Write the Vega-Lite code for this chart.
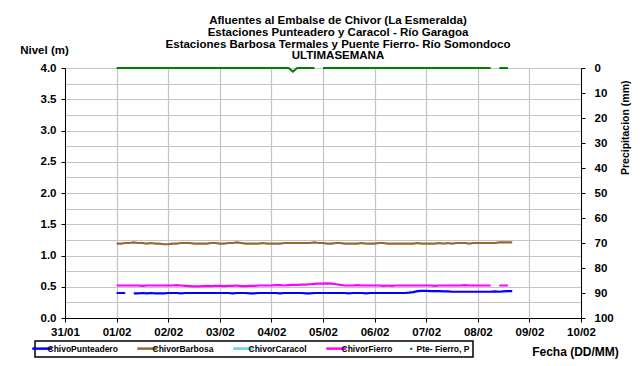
{
  "$schema": "https://vega.github.io/schema/vega-lite/v6.json",
  "width": 516,
  "height": 250,
  "autosize": {"type": "none"},
  "padding": {"left": 65, "top": 68, "right": 62, "bottom": 48},
  "background": "white",
  "title": {
    "text": ["Afluentes al Embalse de Chivor (La Esmeralda)", "Estaciones Punteadero y Caracol - Río Garagoa", "Estaciones Barbosa Termales y Puente Fierro- Río Somondoco", "ULTIMASEMANA"],
    "font": "Liberation Sans",
    "fontSize": 11.5,
    "fontWeight": "bold",
    "color": "black",
    "lineHeight": 11.7,
    "anchor": "middle",
    "dx": 15,
    "offset": -18
  },
  "config": {
    "font": "Liberation Sans",
    "view": {"stroke": null},
    "axis": {
      "labelFont": "Liberation Sans",
      "labelFontWeight": "bold",
      "labelFontSize": 11.5,
      "labelColor": "black",
      "titleFont": "Liberation Sans",
      "titleFontWeight": "bold",
      "titleColor": "black",
      "domainColor": "black",
      "tickColor": "black",
      "gridColor": "#c4c4c4",
      "gridWidth": 1.2
    }
  },
  "data": {
    "values": [
      {"t": "2014-02-01T00:00", "ChivoPunteadero": 0.40, "ChivorBarbosa": 1.19, "ChivorFierro": 0.52, "P": 0},
      {"t": "2014-02-01T02:00", "ChivoPunteadero": 0.40, "ChivorBarbosa": 1.19, "ChivorFierro": 0.52, "P": 0},
      {"t": "2014-02-01T04:00", "ChivoPunteadero": 0.40, "ChivorBarbosa": 1.20, "ChivorFierro": 0.52, "P": 0},
      {"t": "2014-02-01T06:00", "ChivoPunteadero": null, "ChivorBarbosa": 1.20, "ChivorFierro": 0.52, "P": 0},
      {"t": "2014-02-01T08:00", "ChivoPunteadero": 0.395, "ChivorBarbosa": 1.21, "ChivorFierro": 0.52, "P": 0},
      {"t": "2014-02-01T10:00", "ChivoPunteadero": 0.395, "ChivorBarbosa": 1.20, "ChivorFierro": 0.52, "P": 0},
      {"t": "2014-02-01T12:00", "ChivoPunteadero": 0.40, "ChivorBarbosa": 1.20, "ChivorFierro": 0.515, "P": 0},
      {"t": "2014-02-01T14:00", "ChivoPunteadero": 0.395, "ChivorBarbosa": 1.19, "ChivorFierro": 0.52, "P": 0},
      {"t": "2014-02-01T16:00", "ChivoPunteadero": 0.40, "ChivorBarbosa": 1.20, "ChivorFierro": 0.52, "P": 0},
      {"t": "2014-02-01T18:00", "ChivoPunteadero": 0.395, "ChivorBarbosa": 1.19, "ChivorFierro": 0.52, "P": 0},
      {"t": "2014-02-01T20:00", "ChivoPunteadero": 0.395, "ChivorBarbosa": 1.19, "ChivorFierro": 0.52, "P": 0},
      {"t": "2014-02-01T22:00", "ChivoPunteadero": 0.395, "ChivorBarbosa": 1.18, "ChivorFierro": 0.52, "P": 0},
      {"t": "2014-02-02T00:00", "ChivoPunteadero": 0.40, "ChivorBarbosa": 1.18, "ChivorFierro": 0.52, "P": 0},
      {"t": "2014-02-02T02:00", "ChivoPunteadero": 0.40, "ChivorBarbosa": 1.19, "ChivorFierro": 0.52, "P": 0},
      {"t": "2014-02-02T04:00", "ChivoPunteadero": 0.40, "ChivorBarbosa": 1.19, "ChivorFierro": 0.525, "P": 0},
      {"t": "2014-02-02T06:00", "ChivoPunteadero": 0.395, "ChivorBarbosa": 1.20, "ChivorFierro": 0.52, "P": 0},
      {"t": "2014-02-02T08:00", "ChivoPunteadero": 0.40, "ChivorBarbosa": 1.20, "ChivorFierro": 0.515, "P": 0},
      {"t": "2014-02-02T10:00", "ChivoPunteadero": 0.40, "ChivorBarbosa": 1.20, "ChivorFierro": 0.51, "P": 0},
      {"t": "2014-02-02T12:00", "ChivoPunteadero": 0.40, "ChivorBarbosa": 1.19, "ChivorFierro": 0.505, "P": 0},
      {"t": "2014-02-02T14:00", "ChivoPunteadero": 0.40, "ChivorBarbosa": 1.19, "ChivorFierro": 0.505, "P": 0},
      {"t": "2014-02-02T16:00", "ChivoPunteadero": 0.40, "ChivorBarbosa": 1.19, "ChivorFierro": 0.51, "P": 0},
      {"t": "2014-02-02T18:00", "ChivoPunteadero": 0.40, "ChivorBarbosa": 1.19, "ChivorFierro": 0.515, "P": 0},
      {"t": "2014-02-02T20:00", "ChivoPunteadero": 0.40, "ChivorBarbosa": 1.20, "ChivorFierro": 0.51, "P": 0},
      {"t": "2014-02-02T22:00", "ChivoPunteadero": 0.40, "ChivorBarbosa": 1.20, "ChivorFierro": 0.515, "P": 0},
      {"t": "2014-02-03T00:00", "ChivoPunteadero": 0.40, "ChivorBarbosa": 1.19, "ChivorFierro": 0.515, "P": 0},
      {"t": "2014-02-03T02:00", "ChivoPunteadero": 0.40, "ChivorBarbosa": 1.19, "ChivorFierro": 0.51, "P": 0},
      {"t": "2014-02-03T04:00", "ChivoPunteadero": 0.40, "ChivorBarbosa": 1.20, "ChivorFierro": 0.515, "P": 0},
      {"t": "2014-02-03T06:00", "ChivoPunteadero": 0.395, "ChivorBarbosa": 1.20, "ChivorFierro": 0.515, "P": 0},
      {"t": "2014-02-03T08:00", "ChivoPunteadero": 0.40, "ChivorBarbosa": 1.21, "ChivorFierro": 0.52, "P": 0},
      {"t": "2014-02-03T10:00", "ChivoPunteadero": 0.40, "ChivorBarbosa": 1.20, "ChivorFierro": 0.51, "P": 0},
      {"t": "2014-02-03T12:00", "ChivoPunteadero": 0.40, "ChivorBarbosa": 1.19, "ChivorFierro": 0.51, "P": 0},
      {"t": "2014-02-03T14:00", "ChivoPunteadero": 0.395, "ChivorBarbosa": 1.19, "ChivorFierro": 0.515, "P": 0},
      {"t": "2014-02-03T16:00", "ChivoPunteadero": 0.395, "ChivorBarbosa": 1.19, "ChivorFierro": 0.515, "P": 0},
      {"t": "2014-02-03T18:00", "ChivoPunteadero": 0.40, "ChivorBarbosa": 1.19, "ChivorFierro": 0.52, "P": 0},
      {"t": "2014-02-03T20:00", "ChivoPunteadero": 0.40, "ChivorBarbosa": 1.20, "ChivorFierro": 0.52, "P": 0},
      {"t": "2014-02-03T22:00", "ChivoPunteadero": 0.40, "ChivorBarbosa": 1.19, "ChivorFierro": 0.52, "P": 0},
      {"t": "2014-02-04T00:00", "ChivoPunteadero": 0.40, "ChivorBarbosa": 1.19, "ChivorFierro": 0.52, "P": 0},
      {"t": "2014-02-04T02:00", "ChivoPunteadero": 0.40, "ChivorBarbosa": 1.19, "ChivorFierro": 0.525, "P": 0},
      {"t": "2014-02-04T04:00", "ChivoPunteadero": 0.395, "ChivorBarbosa": 1.19, "ChivorFierro": 0.525, "P": 0},
      {"t": "2014-02-04T06:00", "ChivoPunteadero": 0.40, "ChivorBarbosa": 1.20, "ChivorFierro": 0.52, "P": 0},
      {"t": "2014-02-04T08:00", "ChivoPunteadero": 0.40, "ChivorBarbosa": 1.20, "ChivorFierro": 0.525, "P": 0},
      {"t": "2014-02-04T10:00", "ChivoPunteadero": 0.40, "ChivorBarbosa": 1.20, "ChivorFierro": 0.53, "P": 1.5},
      {"t": "2014-02-04T12:00", "ChivoPunteadero": 0.40, "ChivorBarbosa": 1.20, "ChivorFierro": 0.53, "P": 0},
      {"t": "2014-02-04T14:00", "ChivoPunteadero": 0.40, "ChivorBarbosa": 1.20, "ChivorFierro": 0.535, "P": 0},
      {"t": "2014-02-04T16:00", "ChivoPunteadero": 0.395, "ChivorBarbosa": 1.20, "ChivorFierro": 0.535, "P": 0},
      {"t": "2014-02-04T18:00", "ChivoPunteadero": 0.395, "ChivorBarbosa": 1.20, "ChivorFierro": 0.54, "P": 0},
      {"t": "2014-02-04T20:00", "ChivoPunteadero": 0.40, "ChivorBarbosa": 1.21, "ChivorFierro": 0.545, "P": 0},
      {"t": "2014-02-04T22:00", "ChivoPunteadero": 0.40, "ChivorBarbosa": 1.20, "ChivorFierro": 0.55, "P": null},
      {"t": "2014-02-05T00:00", "ChivoPunteadero": 0.40, "ChivorBarbosa": 1.20, "ChivorFierro": 0.55, "P": 0},
      {"t": "2014-02-05T02:00", "ChivoPunteadero": 0.40, "ChivorBarbosa": 1.19, "ChivorFierro": 0.555, "P": 0},
      {"t": "2014-02-05T04:00", "ChivoPunteadero": 0.40, "ChivorBarbosa": 1.19, "ChivorFierro": 0.55, "P": 0},
      {"t": "2014-02-05T06:00", "ChivoPunteadero": 0.40, "ChivorBarbosa": 1.20, "ChivorFierro": 0.54, "P": 0},
      {"t": "2014-02-05T08:00", "ChivoPunteadero": 0.40, "ChivorBarbosa": 1.20, "ChivorFierro": 0.53, "P": 0},
      {"t": "2014-02-05T10:00", "ChivoPunteadero": 0.40, "ChivorBarbosa": 1.19, "ChivorFierro": 0.52, "P": 0},
      {"t": "2014-02-05T12:00", "ChivoPunteadero": 0.395, "ChivorBarbosa": 1.19, "ChivorFierro": 0.52, "P": 0},
      {"t": "2014-02-05T14:00", "ChivoPunteadero": 0.40, "ChivorBarbosa": 1.19, "ChivorFierro": 0.52, "P": 0},
      {"t": "2014-02-05T16:00", "ChivoPunteadero": 0.40, "ChivorBarbosa": 1.19, "ChivorFierro": 0.525, "P": 0},
      {"t": "2014-02-05T18:00", "ChivoPunteadero": 0.40, "ChivorBarbosa": 1.20, "ChivorFierro": 0.52, "P": 0},
      {"t": "2014-02-05T20:00", "ChivoPunteadero": 0.395, "ChivorBarbosa": 1.19, "ChivorFierro": 0.52, "P": 0},
      {"t": "2014-02-05T22:00", "ChivoPunteadero": 0.40, "ChivorBarbosa": 1.19, "ChivorFierro": 0.52, "P": 0},
      {"t": "2014-02-06T00:00", "ChivoPunteadero": 0.40, "ChivorBarbosa": 1.19, "ChivorFierro": 0.52, "P": 0},
      {"t": "2014-02-06T02:00", "ChivoPunteadero": 0.40, "ChivorBarbosa": 1.20, "ChivorFierro": 0.52, "P": 0},
      {"t": "2014-02-06T04:00", "ChivoPunteadero": 0.40, "ChivorBarbosa": 1.20, "ChivorFierro": 0.515, "P": 0},
      {"t": "2014-02-06T06:00", "ChivoPunteadero": 0.40, "ChivorBarbosa": 1.19, "ChivorFierro": 0.52, "P": 0},
      {"t": "2014-02-06T08:00", "ChivoPunteadero": 0.40, "ChivorBarbosa": 1.19, "ChivorFierro": 0.515, "P": 0},
      {"t": "2014-02-06T10:00", "ChivoPunteadero": 0.40, "ChivorBarbosa": 1.19, "ChivorFierro": 0.52, "P": 0},
      {"t": "2014-02-06T12:00", "ChivoPunteadero": 0.40, "ChivorBarbosa": 1.19, "ChivorFierro": 0.52, "P": 0},
      {"t": "2014-02-06T14:00", "ChivoPunteadero": 0.40, "ChivorBarbosa": 1.19, "ChivorFierro": 0.52, "P": 0},
      {"t": "2014-02-06T16:00", "ChivoPunteadero": 0.405, "ChivorBarbosa": 1.19, "ChivorFierro": 0.52, "P": 0},
      {"t": "2014-02-06T18:00", "ChivoPunteadero": 0.415, "ChivorBarbosa": 1.19, "ChivorFierro": 0.52, "P": 0},
      {"t": "2014-02-06T20:00", "ChivoPunteadero": 0.43, "ChivorBarbosa": 1.20, "ChivorFierro": 0.52, "P": 0},
      {"t": "2014-02-06T22:00", "ChivoPunteadero": 0.435, "ChivorBarbosa": 1.19, "ChivorFierro": 0.52, "P": 0},
      {"t": "2014-02-07T00:00", "ChivoPunteadero": 0.435, "ChivorBarbosa": 1.19, "ChivorFierro": 0.52, "P": 0},
      {"t": "2014-02-07T02:00", "ChivoPunteadero": 0.43, "ChivorBarbosa": 1.19, "ChivorFierro": 0.52, "P": 0},
      {"t": "2014-02-07T04:00", "ChivoPunteadero": 0.43, "ChivorBarbosa": 1.19, "ChivorFierro": 0.515, "P": 0},
      {"t": "2014-02-07T06:00", "ChivoPunteadero": 0.43, "ChivorBarbosa": 1.20, "ChivorFierro": 0.52, "P": 0},
      {"t": "2014-02-07T08:00", "ChivoPunteadero": 0.425, "ChivorBarbosa": 1.19, "ChivorFierro": 0.52, "P": 0},
      {"t": "2014-02-07T10:00", "ChivoPunteadero": 0.425, "ChivorBarbosa": 1.20, "ChivorFierro": 0.52, "P": 0},
      {"t": "2014-02-07T12:00", "ChivoPunteadero": 0.42, "ChivorBarbosa": 1.19, "ChivorFierro": 0.52, "P": 0},
      {"t": "2014-02-07T14:00", "ChivoPunteadero": 0.42, "ChivorBarbosa": 1.20, "ChivorFierro": 0.52, "P": 0},
      {"t": "2014-02-07T16:00", "ChivoPunteadero": 0.42, "ChivorBarbosa": 1.20, "ChivorFierro": 0.52, "P": 0},
      {"t": "2014-02-07T18:00", "ChivoPunteadero": 0.42, "ChivorBarbosa": 1.20, "ChivorFierro": 0.525, "P": 0},
      {"t": "2014-02-07T20:00", "ChivoPunteadero": 0.42, "ChivorBarbosa": 1.19, "ChivorFierro": 0.52, "P": 0},
      {"t": "2014-02-07T22:00", "ChivoPunteadero": 0.42, "ChivorBarbosa": 1.20, "ChivorFierro": 0.52, "P": 0},
      {"t": "2014-02-08T00:00", "ChivoPunteadero": 0.42, "ChivorBarbosa": 1.20, "ChivorFierro": 0.52, "P": 0},
      {"t": "2014-02-08T02:00", "ChivoPunteadero": 0.42, "ChivorBarbosa": 1.20, "ChivorFierro": 0.52, "P": 0},
      {"t": "2014-02-08T04:00", "ChivoPunteadero": 0.42, "ChivorBarbosa": 1.20, "ChivorFierro": 0.52, "P": 0},
      {"t": "2014-02-08T06:00", "ChivoPunteadero": 0.42, "ChivorBarbosa": 1.20, "ChivorFierro": 0.52, "P": 0},
      {"t": "2014-02-08T08:00", "ChivoPunteadero": 0.425, "ChivorBarbosa": 1.20, "ChivorFierro": null, "P": null},
      {"t": "2014-02-08T10:00", "ChivoPunteadero": 0.42, "ChivorBarbosa": 1.21, "ChivorFierro": 0.52, "P": 0},
      {"t": "2014-02-08T12:00", "ChivoPunteadero": 0.425, "ChivorBarbosa": 1.21, "ChivorFierro": 0.52, "P": 0},
      {"t": "2014-02-08T14:00", "ChivoPunteadero": 0.43, "ChivorBarbosa": 1.21, "ChivorFierro": 0.52, "P": 0},
      {"t": "2014-02-08T16:00", "ChivoPunteadero": 0.43, "ChivorBarbosa": 1.21, "ChivorFierro": null, "P": null}
    ]
  },
  "encoding": {
    "x": {
      "field": "t",
      "type": "temporal",
      "scale": {"domain": [{"year": 2014, "month": 1, "date": 31}, {"year": 2014, "month": 2, "date": 10}]},
      "axis": {
        "title": "Fecha (DD/MM)",
        "titleFontSize": 12,
        "titleX": 510,
        "titleY": 37,
        "titleAlign": "center",
        "titleBaseline": "alphabetic",
        "format": "%d/%m",
        "tickCount": {"interval": "day", "step": 1},
        "tickSize": 4,
        "labelPadding": 4,
        "labelFlush": false,
        "labelOverlap": false,
        "grid": true
      }
    }
  },
  "layer": [
    {
      "transform": [{"fold": ["ChivoPunteadero", "ChivorBarbosa", "ChivorFierro"], "as": ["serie", "nivel"]}],
      "mark": {"type": "line", "strokeWidth": 2.2, "invalid": "break-paths-filter-domains"},
      "encoding": {
        "y": {
          "field": "nivel",
          "type": "quantitative",
          "scale": {"domain": [0, 4]},
          "axis": {
            "title": "Nivel (m)",
            "titleFontSize": 11.5,
            "titleAngle": 0,
            "titleAlign": "center",
            "titleBaseline": "alphabetic",
            "titleX": -21,
            "titleY": -15,
            "values": [0, 0.25, 0.5, 0.75, 1, 1.25, 1.5, 1.75, 2, 2.25, 2.5, 2.75, 3, 3.25, 3.5, 3.75, 4],
            "labelExpr": "datum.value % 0.5 === 0 ? format(datum.value, '.1f') : ''",
            "tickOpacity": {"condition": {"test": "datum.value % 0.5 !== 0", "value": 0}, "value": 1},
            "tickSize": 4,
            "labelPadding": 5,
            "grid": true
          }
        },
        "color": {
          "field": "serie",
          "type": "nominal",
          "scale": {
            "domain": ["ChivoPunteadero", "ChivorBarbosa", "ChivorCaracol", "ChivorFierro", "Pte- Fierro, P"],
            "range": ["#0000ff", "#996633", "#66ccff", "#ff00ff", "#008000"]
          },
          "legend": {
            "orient": "none",
            "legendX": -30,
            "legendY": 273,
            "direction": "horizontal",
            "columns": 5,
            "columnPadding": 14,
            "title": null,
            "symbolType": "stroke",
            "symbolSize": 400,
            "symbolStrokeWidth": 2.5,
            "labelFont": "Liberation Sans",
            "labelFontSize": 8.5,
            "labelFontWeight": "bold",
            "labelColor": "black",
            "labelOffset": 1,
            "labelLimit": 200,
            "padding": 3,
            "strokeColor": "black",
            "fillColor": "white",
            "encode": {
              "legend": {
                "update": {
                  "stroke": {"value": "black"},
                  "strokeWidth": {"value": 1.5},
                  "fill": {"value": "white"},
                  "width": {"value": 462},
                  "height": {"value": 13}
                }
              },
              "symbols": {
                "update": {
                  "shape": {"signal": "datum.value === 'Pte- Fierro, P' ? 'square' : 'stroke'"},
                  "size": {"signal": "datum.value === 'Pte- Fierro, P' ? 5 : 400"},
                  "fill": {"signal": "datum.value === 'Pte- Fierro, P' ? '#008000' : 'transparent'"},
                  "strokeWidth": {"signal": "datum.value === 'Pte- Fierro, P' ? 0 : 2.5"}
                }
              }
            }
          }
        }
      }
    },
    {
      "mark": {"type": "line", "strokeWidth": 2, "invalid": "break-paths-filter-domains"},
      "encoding": {
        "y": {
          "field": "P",
          "type": "quantitative",
          "scale": {"domain": [0, 100], "reverse": true},
          "axis": {
            "orient": "right",
            "title": "Precipitacion (mm)",
            "titleFontSize": 10.5,
            "titleAngle": 270,
            "titleAlign": "right",
            "titleBaseline": "alphabetic",
            "titleX": 47,
            "titleY": 12,
            "values": [0, 10, 20, 30, 40, 50, 60, 70, 80, 90, 100],
            "tickSize": 4,
            "labelPadding": 9,
            "grid": false
          }
        },
        "color": {"datum": "Pte- Fierro, P"}
      }
    }
  ],
  "resolve": {"scale": {"y": "independent"}}
}
